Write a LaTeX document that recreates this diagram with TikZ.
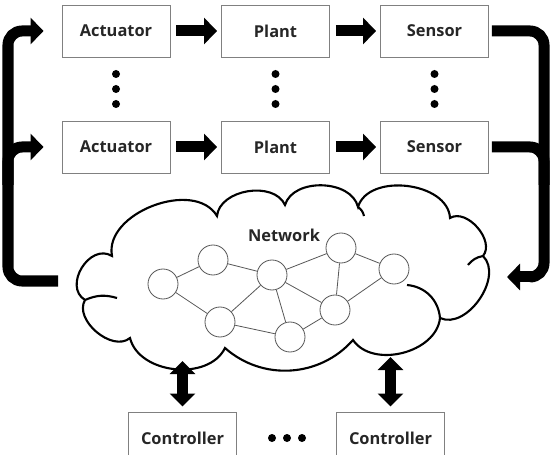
\documentclass[tikz,border=0pt]{standalone}
\usepackage{fontspec}
\setmainfont{Open Sans}
\usetikzlibrary{arrows.meta}

\newcommand{\lbl}{\fontsize{14}{16}\selectfont\bfseries}

\tikzset{
  unit/.style={draw=black!50, line width=0.8pt, minimum width=3.24cm,
    minimum height=1.56cm, inner sep=0pt, font=\lbl, text=black!85},
  host/.style={circle, draw=black!65, line width=0.7pt, minimum size=0.9cm,
    inner sep=0pt, fill=white},
  link/.style={draw=black!65, line width=0.7pt},
  flow/.style={line width=0.33cm, -{Triangle[length=0.39cm,width=0.78cm]}},
  bothflow/.style={line width=0.33cm,
    {Triangle[length=0.39cm,width=0.75cm]}-{Triangle[length=0.39cm,width=0.75cm]}},
  fback/.style={line width=0.33cm, rounded corners=0.42cm},
  cloudline/.style={line width=1.8pt},
}

\begin{document}
\begin{tikzpicture}[x=0.03cm,y=-0.03cm]
  \useasboundingbox (0,0) rectangle (558,455);
  % plants
  \node[unit] (a1) at (116,31)   {Actuator};
  \node[unit] (p1) at (275.5,31) {Plant};
  \node[unit] (s1) at (434.5,31) {Sensor};
  \node[unit] (a2) at (116,147)   {Actuator};
  \node[unit] (p2) at (275.5,147) {Plant};
  \node[unit] (s2) at (434.5,147) {Sensor};
  \foreach \x in {116,275.5,434.5}
    \foreach \y in {74,89,104}
      \fill (\x,\y) circle (4);
  \foreach \i in {1,2} {
    \draw[flow, shorten <=0.18cm, shorten >=0.12cm] (a\i) -- (p\i);
    \draw[flow, shorten <=0.18cm, shorten >=0.12cm] (p\i) -- (s\i);
  }
%
  % network cloud
  \draw[cloudline] (112,256) to[bend left=80] (217,216)
    to[bend left=75] (285,205) to[bend left=75] (358,207)
    to[bend left=80] (450,218) to[bend left=80] (483,256)
    to[bend left=80] (440,318) to[bend left=70] (353,340)
    to[bend left=45] (225,348) to[bend left=70] (130,338)
    to[bend left=80] (85,300) to[bend left=90, looseness=1.3] cycle;
  \draw[cloudline] (85,300) to[bend left=20] (117,298);
  \draw[cloudline] (407,285) to[bend left=40] (440,318);
  \draw[cloudline] (483,256) to[bend right=20] (468,265);
  \draw[cloudline] (358,207) to[bend left=20] (364,216);
  \node[font=\lbl, text=black!85] (nw) at (284,235) {Network};
  \node[host] (n1) at (163,284) {};
  \node[host] (n2) at (213,260) {};
  \node[host] (n3) at (272,275) {};
  \node[host] (n4) at (220,322) {};
  \node[host] (n5) at (290,337) {};
  \node[host] (n6) at (341,248) {};
  \node[host] (n7) at (335,310) {};
  \node[host] (n8) at (394,269) {};
  \foreach \u/\v in {1/2,2/3,1/4,4/3,4/5,3/5,3/6,3/7,6/7,6/8,7/8,7/5}
    \draw[link] (n\u) -- (n\v);
%
  % feedback loops
  \coordinate (lin) at (58,281);
  \coordinate (rout) at (507,277);
  \draw[fback, flow, shorten >=0.54cm] (lin) -- (8,281) -- (8,31) -- (a1.west);
  \draw[fback, flow, shorten >=0.54cm] (8,185) -- (8,147) -- (a2.west);
  \draw[fback] (s1.east) ++(3,0) -- (544,31) -- (544,277) -- (530,277);
  \draw[fback] (s2.east) ++(3,0) -- (544,147) -- (544,185);
  \draw[flow] (532,277) -- (rout);
%
  % controllers
  \node[unit] (c1) at (182.5,438) {Controller};
  \node[unit] (c2) at (390.5,438) {Controller};
  \foreach \x in {272,287,302}
    \fill (\x,438) circle (4);
  \coordinate (d1) at (182.5,361);
  \coordinate (d2) at (390.5,357);
  \draw[bothflow, shorten >=0.15cm] (d1) -- (c1.north);
  \draw[bothflow, shorten >=0.15cm] (d2) -- (c2.north);
\end{tikzpicture}
\end{document}
